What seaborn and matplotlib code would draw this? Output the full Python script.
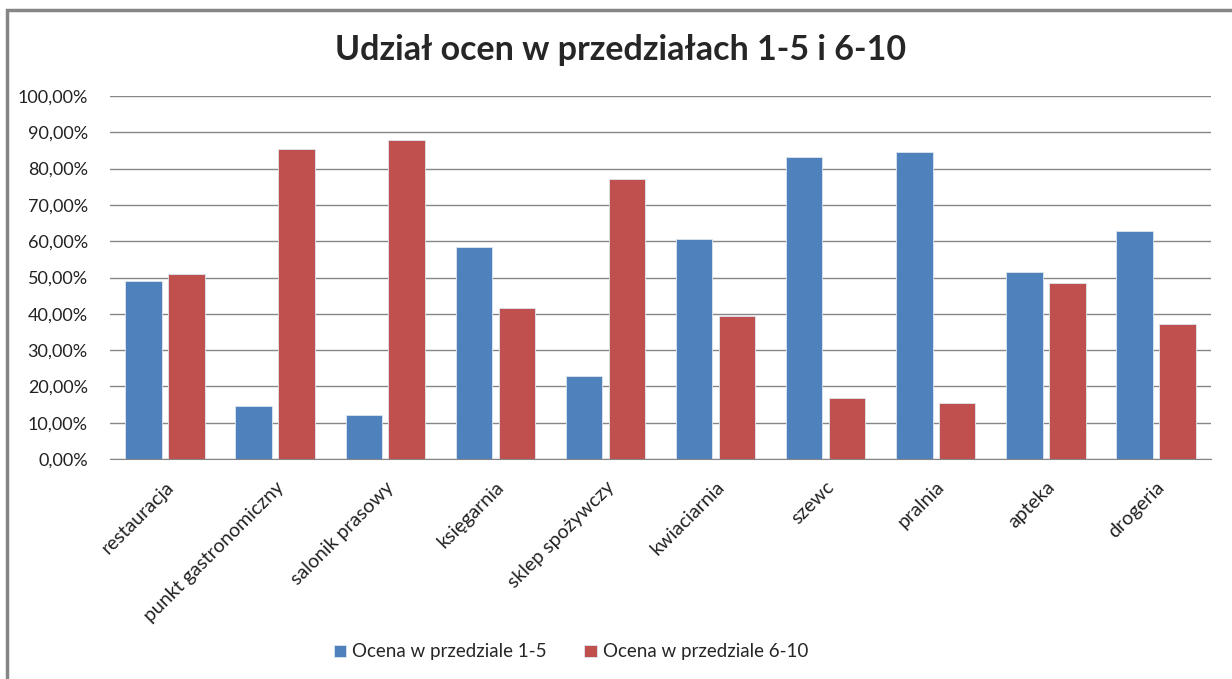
import numpy as np
import pandas as pd
import seaborn as sns
from matplotlib import pyplot as plt
from matplotlib.ticker import FuncFormatter, MultipleLocator
from matplotlib.patches import Rectangle

categories = ["restauracja", "punkt gastronomiczny", "salonik prasowy", "księgarnia",
              "sklep spożywczy", "kwiaciarnia", "szewc", "pralnia", "apteka", "drogeria"]
ocena_1_5 = [48.9, 14.6, 12.1, 58.5, 23.0, 60.6, 83.3, 84.5, 51.4, 62.9]
ocena_6_10 = [51.1, 85.4, 87.9, 41.5, 77.0, 39.4, 16.7, 15.5, 48.6, 37.1]
series_names = ["Ocena w przedziale 1-5", "Ocena w przedziale 6-10"]

df = pd.DataFrame({
    "kategoria": categories * 2,
    "seria": [series_names[0]] * len(categories) + [series_names[1]] * len(categories),
    "udzial": ocena_1_5 + ocena_6_10,
})

sns.set_style("white")
plt.rcParams["font.family"] = ["Lato", "DejaVu Sans"]

fig = plt.figure(figsize=(12.32, 6.79), dpi=100)
ax = fig.add_axes([110 / 1232, 1 - 459 / 679, 1101 / 1232, 363 / 679])

sns.barplot(data=df, x="kategoria", y="udzial", hue="seria", ax=ax,
            palette=["#4F81BD", "#C0504D"], saturation=1, width=0.78, gap=0.15,
            edgecolor="#dde6f0", linewidth=0.6, legend=True)

ax.set_ylim(0, 100)
ax.set_xlim(-0.5, len(categories) - 0.5)
ax.yaxis.set_major_locator(MultipleLocator(10))
ax.yaxis.set_major_formatter(FuncFormatter(lambda v, p: f"{v:.2f}%".replace(".", ",")))
ax.grid(axis="y", color="#868686", linewidth=1)
ax.set_axisbelow(True)
for s in ["left", "right", "top"]:
    ax.spines[s].set_visible(False)
ax.spines["bottom"].set_color("#868686")
ax.tick_params(axis="both", length=0, colors="#222222")
ax.tick_params(axis="y", pad=16, labelsize=13)
ax.tick_params(axis="x", pad=14, labelsize=14)
ax.set_xlabel("")
ax.set_ylabel("")
plt.setp(ax.get_xticklabels(), rotation=45, ha="right", rotation_mode="anchor")

ax.set_title("Udział ocen w przedziałach 1-5 i 6-10", fontsize=24.5, fontweight="bold",
             pad=26, x=(621 - 110) / 1101)

handles, labels = ax.get_legend_handles_labels()
ax.legend_.remove()
fig.legend(handles, labels, loc="center", bbox_to_anchor=(571 / 1232, 1 - 652 / 679),
           ncol=2, frameon=False, fontsize=13.5, handlelength=0.65, handleheight=0.65,
           handletextpad=0.35, columnspacing=2.0)

fig.patches.append(Rectangle((7 / 1232, -0.1), 1.2, 1 - 10 / 679 + 0.1, transform=fig.transFigure,
                             fill=False, edgecolor="#868686", linewidth=2.5))

fig.savefig("out.png", dpi=100)
